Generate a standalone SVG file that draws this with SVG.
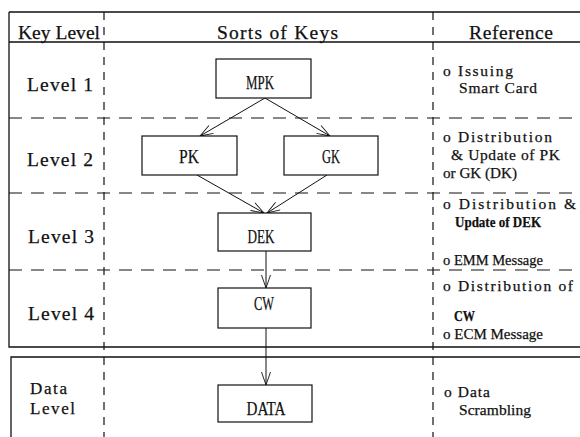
<svg xmlns="http://www.w3.org/2000/svg" width="580" height="437" viewBox="0 0 580 437">
<style>
.frame{stroke:#111;stroke-width:1.3;fill:none}
.dh{stroke:#111;stroke-width:1.2;stroke-dasharray:13 9;fill:none}
.dv{stroke:#111;stroke-width:1.2;stroke-dasharray:8 7;fill:none}
.box{fill:#fff;stroke:#111;stroke-width:1.2}
.conn{stroke:#111;stroke-width:1;fill:none;marker-end:url(#arr)}
text{font-family:"Liberation Serif","Times New Roman",serif;fill:#111;stroke:#111;stroke-width:0.25}
.big{font-size:19.5px}
.dl{font-size:17px}
.sm{font-size:15.5px}
.bd{font-size:15px;font-weight:bold}
.lbl{font-size:19.5px;text-anchor:middle}
</style>
<defs>
<marker id="arr" markerUnits="userSpaceOnUse" markerWidth="16" markerHeight="12" refX="14" refY="5" orient="auto">
<path d="M1,0.5 L14,5 L1,9.5" fill="none" stroke="#111" stroke-width="0.9"/>
</marker>
</defs>
<rect width="580" height="437" fill="#fff"/>
<g id="grid">
<path class="frame" d="M9,12 H580 M9,12 V347 H580 M9,42 H580 M11,437 V357 H580"/>
<path class="dh" d="M9,118 H580 M9,193 H580 M9,270 H580"/>
<path class="dv" d="M104,12 V437 M433,12 V437"/>
</g>
<g id="headers">
<text class="big" x="18" y="39" textLength="82" lengthAdjust="spacing">Key Level</text>
<text class="big" x="217" y="39" textLength="121" lengthAdjust="spacing">Sorts of Keys</text>
<text class="big" x="469" y="39" textLength="84" lengthAdjust="spacing">Reference</text>
</g>
<g id="levels">
<text class="big" x="27" y="91" textLength="66" lengthAdjust="spacing">Level 1</text>
<text class="big" x="27" y="166" textLength="66" lengthAdjust="spacing">Level 2</text>
<text class="big" x="28" y="243" textLength="66" lengthAdjust="spacing">Level 3</text>
<text class="big" x="28" y="320" textLength="66" lengthAdjust="spacing">Level 4</text>
<text class="dl" x="30" y="394" textLength="37" lengthAdjust="spacing">Data</text>
<text class="dl" x="30" y="414" textLength="45" lengthAdjust="spacing">Level</text>
</g>
<g id="connectors">
<line class="conn" x1="265" y1="98" x2="200" y2="136"/>
<line class="conn" x1="265" y1="98" x2="330" y2="136"/>
<line class="conn" x1="197" y1="175" x2="264" y2="213"/>
<line class="conn" x1="327" y1="175" x2="267" y2="213"/>
<line class="conn" x1="266" y1="251" x2="266" y2="288"/>
<line class="conn" x1="266" y1="328" x2="266" y2="385"/>
</g>
<g id="node-mpk">
<rect class="box" x="216" y="59" width="95" height="39"/>
<text class="lbl" x="260" y="89" textLength="28" lengthAdjust="spacingAndGlyphs">MPK</text>
</g>
<g id="node-pk">
<rect class="box" x="142" y="136" width="95" height="39"/>
<text class="lbl" x="189" y="163" textLength="20" lengthAdjust="spacingAndGlyphs">PK</text>
</g>
<g id="node-gk">
<rect class="box" x="284" y="136" width="94" height="39"/>
<text class="lbl" x="331" y="163" textLength="18" lengthAdjust="spacingAndGlyphs">GK</text>
</g>
<g id="node-dek">
<rect class="box" x="218" y="213" width="93" height="38"/>
<text class="lbl" x="261" y="243" textLength="27" lengthAdjust="spacingAndGlyphs">DEK</text>
</g>
<g id="node-cw">
<rect class="box" x="218" y="288" width="93" height="40"/>
<text class="lbl" x="264" y="310" textLength="20" lengthAdjust="spacingAndGlyphs">CW</text>
</g>
<g id="node-data">
<rect class="box" x="218" y="385" width="94" height="37"/>
<text class="lbl" x="266" y="415" textLength="39" lengthAdjust="spacingAndGlyphs">DATA</text>
</g>
<g id="reference">
<text class="sm" x="443" y="76" textLength="70" lengthAdjust="spacing">o Issuing</text>
<text class="sm" x="459" y="93" textLength="78" lengthAdjust="spacing">Smart Card</text>
<text class="sm" x="443" y="142" textLength="109" lengthAdjust="spacing">o Distribution</text>
<text class="sm" x="451" y="160" textLength="109" lengthAdjust="spacing">&amp; Update of PK</text>
<text class="sm" x="443" y="178" textLength="74" lengthAdjust="spacingAndGlyphs">or GK (DK)</text>
<text class="sm" x="443" y="209" textLength="133" lengthAdjust="spacing">o Distribution &amp;</text>
<text class="bd" x="455" y="227" textLength="86" lengthAdjust="spacingAndGlyphs">Update of DEK</text>
<text class="sm" x="443" y="265" textLength="100" lengthAdjust="spacingAndGlyphs">o EMM Message</text>
<text class="sm" x="443" y="291" textLength="130" lengthAdjust="spacing">o Distribution of</text>
<text class="bd" x="454" y="321" textLength="21" lengthAdjust="spacingAndGlyphs">CW</text>
<text class="sm" x="443" y="339" textLength="100" lengthAdjust="spacingAndGlyphs">o ECM Message</text>
<text class="sm" x="444" y="397" textLength="46" lengthAdjust="spacing">o Data</text>
<text class="sm" x="459" y="415" textLength="72" lengthAdjust="spacing">Scrambling</text>
</g>
</svg>
